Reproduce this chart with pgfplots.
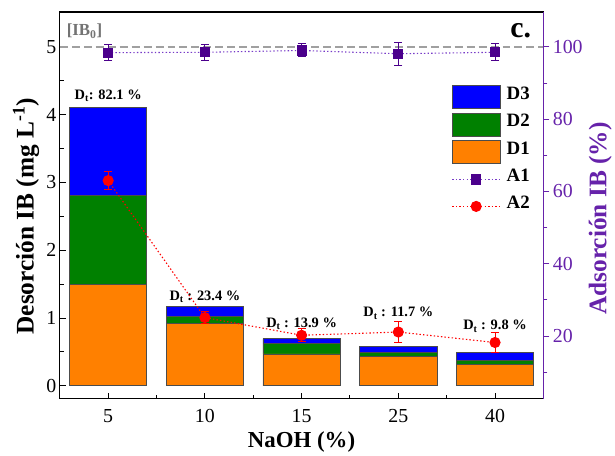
\documentclass[border=0pt]{standalone}
\usepackage{pgfplots}
\usepackage{pgfplotstable}
\pgfplotsset{compat=1.18}
\usepackage{fontspec}
\setmainfont{Liberation Serif}

\definecolor{dOrange}{RGB}{255,128,0}
\definecolor{dGreen}{RGB}{0,128,0}
\definecolor{dBlue}{RGB}{0,0,255}
\definecolor{aIndigo}{RGB}{75,0,140}
\definecolor{aLine}{RGB}{120,60,200}
\definecolor{axPurple}{RGB}{102,34,170}
\definecolor{refGray}{RGB}{160,160,160}

% desorption per stage (mg/L), stacked D1 -> D2 -> D3
\pgfplotstableread{
x  D1    D2    D3
0  1.50  1.31  1.29
1  0.92  0.11  0.14
2  0.47  0.15  0.075
3  0.44  0.05  0.095
4  0.31  0.07  0.11
}\desorcion

% adsorption (%) with standard deviation
\pgfplotstableread{
x  y     e
0  98.4  2.2
1  98.5  2.2
2  99.0  1.8
3  98.1  3.2
4  98.5  2.4
}\adsA

\pgfplotstableread{
x  y     e
0  63.0  2.5
1  25.1  1.6
2  20.2  1.8
3  21.1  3.0
4  18.2  2.7
}\adsB

\newcommand{\tickfont}{\fontsize{20}{24}\selectfont}
\newcommand{\labfont}{\fontsize{25.5}{30}\selectfont\bfseries}
\newcommand{\dtfont}{\fontsize{14.5}{17}\selectfont\bfseries}

\pgfplotsset{
  /pgf/number format/assume math mode=true,
  barleg/.style={legend image code/.code={\draw[##1] (0bp,-11.5bp) rectangle (48bp,11.5bp);}},
  lineleg/.style={legend image code/.code={\draw[mark repeat=2, mark phase=2, ##1] plot coordinates {(0bp,0bp) (24bp,0bp) (48bp,0bp)};}},
  sparsedot/.style={dash pattern=on 1.4bp off 2.2bp},
}

\begin{document}
\begin{tikzpicture}
\begin{axis}[
  scale only axis, width=485bp, height=388bp,
  xmin=-0.5, xmax=4.5, ymin=-0.191, ymax=5.515,
  ybar stacked, bar width=0.8,
  xtick={0,1,2,3,4}, xticklabels={5,10,15,25,40},
  minor xtick={0.5,1.5,2.5,3.5},
  ytick={0,1,2,3,4,5}, minor ytick={0.5,1.5,2.5,3.5,4.5},
  xtick pos=bottom, ytick pos=left,
  tick align=inside,
  major tick length=6bp, minor tick length=4bp,
  tick style={black, line width=1bp},
  axis line style={line width=1.1bp},
  ticklabel style={font=\tickfont},
  xticklabel style={yshift=-7bp},
  xlabel={NaOH (\%)},
  ylabel={Desorción IB (mg L\textsuperscript{-1})},
  xlabel style={font=\fontsize{23}{27}\selectfont\bfseries, at={(axis description cs:0.5,-0.111)}, anchor=center},
  ylabel style={font=\labfont, at={(axis description cs:-0.070,0.472)}, anchor=center},
  clip=false,
]
\addplot[fill=dOrange, draw=black!70, line width=0.8bp] table[x=x, y=D1] {\desorcion};
\addplot[fill=dGreen,  draw=black!70, line width=0.8bp] table[x=x, y=D2] {\desorcion};
\addplot[fill=dBlue,   draw=black!70, line width=0.8bp] table[x=x, y=D3] {\desorcion};

\node[font=\dtfont] at (axis cs:0,4.28) {D\textsubscript{t}: 82.1 \%};
\node[font=\dtfont] at (axis cs:1,1.31) {D\textsubscript{t} : 23.4 \%};
\node[font=\dtfont] at (axis cs:2,0.91) {D\textsubscript{t} : 13.9 \%};
\node[font=\dtfont] at (axis cs:3,1.07) {D\textsubscript{t} : 11.7 \%};
\node[font=\dtfont] at (axis cs:4,0.88) {D\textsubscript{t} : 9.8 \%};

\node[font=\fontsize{17}{20}\selectfont\bfseries, text=black!55, anchor=west, inner sep=0pt]
  at (axis cs:-0.43,5.235) {[IB\textsubscript{0}]};
\node[font=\fontsize{30}{34}\selectfont\bfseries, anchor=base east, inner sep=0pt]
  at (rel axis cs:0.975,0.933) {c.};

\coordinate (bbA) at ([xshift=-60bp,yshift=-57bp]rel axis cs:0,0);
\coordinate (bbB) at ([xshift=70bp,yshift=12bp]rel axis cs:1,1);
\end{axis}

\begin{axis}[
  scale only axis, width=485bp, height=388bp,
  xmin=-0.5, xmax=4.5, ymin=2.62, ymax=109.66,
  axis x line=none, axis y line*=right,
  ytick={20,40,60,80,100}, minor ytick={10,30,50,70,90},
  tick align=outside,
  major tick length=6bp, minor tick length=4bp,
  y axis line style={axPurple, line width=1.1bp},
  ytick style={axPurple, line width=1bp},
  yticklabel style={font=\tickfont, text=axPurple},
  ylabel={Adsorción IB (\%)},
  ylabel style={font=\labfont, text=axPurple, at={(axis description cs:1.1175,0.466)}, anchor=center},
  legend cell align=left,
  legend style={at={(rel axis cs:0.810,0.812)}, anchor=north west, draw=none, fill=none,
    inner sep=0pt, row sep=4bp, column sep=6bp,
    font=\fontsize{19}{22}\selectfont\bfseries,
    nodes={inner sep=0pt, text height=14bp, text depth=9bp}},
]
\addlegendimage{fill=dBlue, draw=black!70, line width=0.8bp, barleg}
\addlegendentry{D3}
\addlegendimage{fill=dGreen, draw=black!70, line width=0.8bp, barleg}
\addlegendentry{D2}
\addlegendimage{fill=dOrange, draw=black!70, line width=0.8bp, barleg}
\addlegendentry{D1}

% reference level of the initial concentration
\addplot[refGray, line width=1.6bp, dash pattern=on 8bp off 4bp, forget plot]
  coordinates {(-0.5,100) (4.5,100)};

\addplot[aLine, line width=1.1bp, sparsedot, lineleg,
  mark=square*, mark size=4.5bp, mark options={solid, fill=aIndigo, draw=aIndigo},
  error bars/.cd, y dir=both, y explicit,
  error bar style={aIndigo, solid, line width=1bp},
  error mark options={rotate=90, mark size=4bp, line width=1bp, aIndigo, solid}]
  table[x=x, y=y, y error=e] {\adsA};
\addlegendentry{A1}

\addplot[red, line width=1.1bp, sparsedot, lineleg,
  mark=*, mark size=5bp, mark options={solid, fill=red, draw=red},
  error bars/.cd, y dir=both, y explicit,
  error bar style={red, solid, line width=1bp},
  error mark options={rotate=90, mark size=4bp, line width=1bp, red, solid}]
  table[x=x, y=y, y error=e] {\adsB};
\addlegendentry{A2}
\end{axis}
\path (bbA) rectangle (bbB);
\end{tikzpicture}
\end{document}
